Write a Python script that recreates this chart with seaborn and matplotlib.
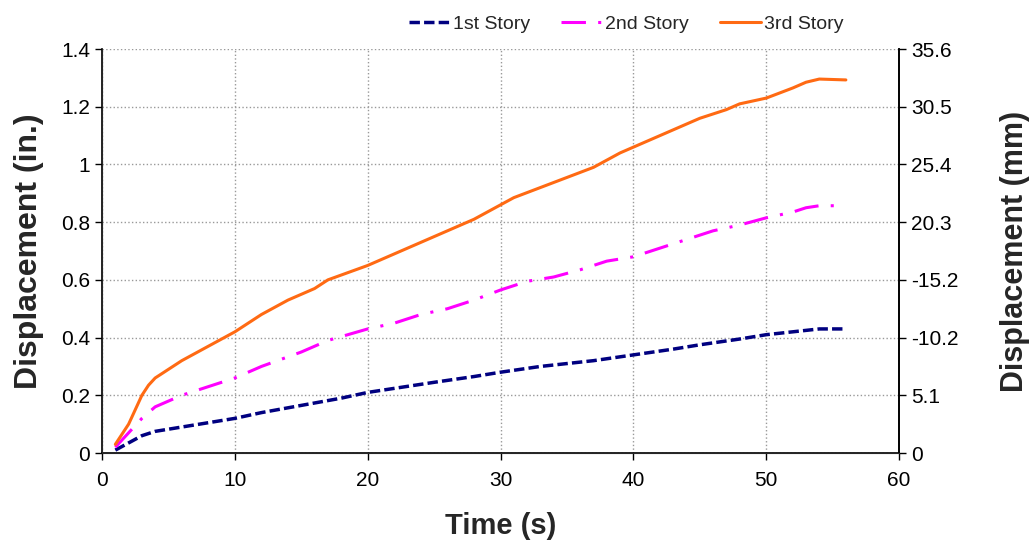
import matplotlib
matplotlib.use("Agg")
import matplotlib.pyplot as plt
import seaborn as sns
import pandas as pd

# -----------------------
# Data
# -----------------------
time_1st = [1, 2, 3, 4, 6, 8, 10, 12, 15, 18, 20, 25, 28, 30, 33, 37, 40, 43, 45, 48, 50, 52, 54, 56]
disp_1st = [0.01, 0.035, 0.06, 0.075, 0.09, 0.105, 0.12, 0.14, 0.165, 0.19, 0.21, 0.245, 0.265,
            0.28, 0.30, 0.32, 0.34, 0.36, 0.375, 0.395, 0.41, 0.42, 0.43, 0.43]

time_2nd = [1, 2, 3, 4, 6, 8, 10, 12, 15, 17, 20, 22, 24, 26, 28, 30, 32, 34, 36, 38, 40, 42,
            44, 46, 48, 50, 52, 53, 54, 56]
disp_2nd = [0.02, 0.07, 0.12, 0.16, 0.20, 0.23, 0.26, 0.30, 0.35, 0.39, 0.43, 0.45, 0.48, 0.50,
            0.53, 0.565, 0.595, 0.61, 0.635, 0.665, 0.68, 0.71, 0.74, 0.77, 0.79, 0.815, 0.835,
            0.85, 0.857, 0.857]

time_3rd = [1, 2, 2.5, 3, 3.5, 4, 5, 6, 8, 10, 12, 14, 16, 17, 20, 22, 24, 26, 28, 30, 31, 33,
            35, 37, 39, 41, 43, 45, 47, 48, 50, 52, 53, 54, 56]
disp_3rd = [0.03, 0.10, 0.15, 0.20, 0.235, 0.26, 0.29, 0.32, 0.37, 0.42, 0.48, 0.53, 0.57, 0.60,
            0.65, 0.69, 0.73, 0.77, 0.81, 0.86, 0.885, 0.92, 0.955, 0.99, 1.04, 1.08, 1.12, 1.16,
            1.19, 1.21, 1.23, 1.265, 1.285, 1.296, 1.293]

left_ticks = [0, 0.2, 0.4, 0.6, 0.8, 1.0, 1.2, 1.4]
left_labels = ["0", "0.2", "0.4", "0.6", "0.8", "1", "1.2", "1.4"]
right_labels = ["0", "5.1", "-10.2", "-15.2", "20.3", "25.4", "30.5", "35.6"]
x_ticks = [0, 10, 20, 30, 40, 50, 60]


# -----------------------
# Style
# -----------------------
sns.set_style("ticks")
plt.rcParams["font.family"] = ["Liberation Sans", "DejaVu Sans"]

fig = plt.figure(figsize=(10.35, 5.45), dpi=100)
ax = fig.add_axes([0.0986, 0.1688, 0.77, 0.7412])

df1 = pd.DataFrame({"t": time_1st, "d": disp_1st})
df2 = pd.DataFrame({"t": time_2nd, "d": disp_2nd})
df3 = pd.DataFrame({"t": time_3rd, "d": disp_3rd})

sns.lineplot(data=df1, x="t", y="d", ax=ax, color="#000080", lw=2.5,
             label="1st Story", linestyle=(0, (3, 1.2)))
sns.lineplot(data=df2, x="t", y="d", ax=ax, color="#FF00FF", lw=2.2,
             label="2nd Story", linestyle=(0, (8, 4, 1, 4)))
sns.lineplot(data=df3, x="t", y="d", ax=ax, color="#FF6A13", lw=2.2,
             label="3rd Story", linestyle="-")

ax.set_xlim(0, 60)
ax.set_ylim(0, 1.4)
ax.set_xticks(x_ticks)
ax.set_yticks(left_ticks)
ax.set_yticklabels(left_labels)
ax.tick_params(labelsize=15, length=5, width=1, colors="black")
ax.tick_params(axis="x", pad=8)
ax.grid(True, color="#999999", linestyle=":", linewidth=1)
ax.spines["top"].set_visible(False)
for s in ["left", "bottom", "right"]:
    ax.spines[s].set_color("black")
    ax.spines[s].set_linewidth(1.2)

ax.set_xlabel("Time (s)", fontsize=21, fontweight="bold", labelpad=16)
ax.set_ylabel("Displacement (in.)", fontsize=23, fontweight="bold", labelpad=12)

# right axis
ax2 = ax.twinx()
ax2.set_ylim(0, 1.4)
ax2.set_yticks(left_ticks)
ax2.set_yticklabels(right_labels)
ax2.tick_params(labelsize=15, length=5, width=1, colors="black")
ax2.spines["top"].set_visible(False)
ax2.spines["right"].set_color("black")
ax2.spines["right"].set_linewidth(1.2)
ax2.set_ylabel("Displacement (mm)", fontsize=22, fontweight="bold", labelpad=30)
ax2.grid(False)

# legend
handles, labels = ax.get_legend_handles_labels()
ax.get_legend().remove()
fig.legend(handles, labels, loc="center", bbox_to_anchor=(0.605, 0.956), ncol=3,
           frameon=False, fontsize=14, handlelength=2.1, columnspacing=1.6, handletextpad=0.15)

plt.savefig("out.png", dpi=100)
